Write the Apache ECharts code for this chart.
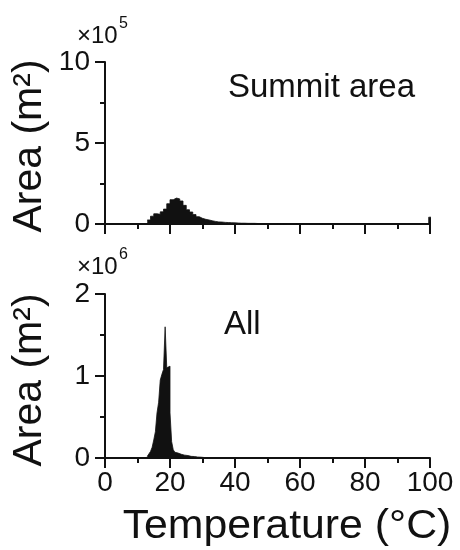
<!DOCTYPE html>
<html><head><meta charset="utf-8">
<script src="https://cdn.jsdelivr.net/npm/echarts@6/dist/echarts.min.js"></script>
<style>html,body{margin:0;padding:0;background:#fff}#c{width:460px;height:550px}</style>
</head><body><div id="c"></div>
<script>
// Summit area histogram: bin start (°C), area (×1e5 m²), 1 °C bins
const summitBinStart = [13,14,15,16,17,18,19,20,21,22,23,24,25,26,27,28,29,30,31,32,33,34,35,36,37,38,39,40,41,42,43,44,45,46,47,48,49,50,51,52,53,54,55,56,57,58,59,60,61,62,63,64,65,66,67,68,69,99.6];
const summitBinWidth = [1,1,1,1,1,1,1,1,1,1,1,1,1,1,1,1,1,1,1,1,1,1,1,1,1,1,1,1,1,1,1,1,1,1,1,1,1,1,1,1,1,1,1,1,1,1,1,1,1,1,1,1,1,1,1,1,1,0.8];
const summitArea = [0.25,0.48,0.63,0.6,0.75,0.92,1.25,1.5,1.6,1.55,1.42,1.15,0.88,0.74,0.58,0.45,0.35,0.29,0.25,0.2,0.16,0.13,0.12,0.1,0.09,0.08,0.07,0.06,0.05,0.05,0.04,0.04,0.04,0.03,0.03,0.03,0.03,0.02,0.02,0.02,0.02,0.02,0.02,0.015,0.015,0.015,0.015,0.015,0.01,0.01,0.01,0.01,0.01,0.01,0.01,0.01,0.01,0.42];
// All histogram: bin start (°C), area (×1e6 m²), 0.5 °C bins
const allBinStart = [13,13.5,14,14.5,15,15.5,16,16.5,17,17.5,18,18.5,19,19.5,20,20.5,21,21.5,22,22.5,23,23.5,24,24.5,25,25.5,26,26.5,27,27.5,28,28.5,29,29.5,30,30.5,31];
const allBinWidth = 0.5;
const allArea = [0.02,0.05,0.08,0.13,0.22,0.32,0.55,0.68,0.95,1.02,1.08,1.6,1.1,1.12,0.55,0.2,0.1,0.07,0.06,0.05,0.045,0.04,0.035,0.03,0.03,0.025,0.02,0.02,0.018,0.015,0.012,0.01,0.01,0.008,0.006,0.005,0.004];
const xTicks = [0,20,40,60,80,100];
const summitTicks = [0,5,10];
const allTicks = [0,1,2];

const FONT = 'Liberation Sans, Arial, sans-serif';
const black = '#111';
function xAxisCfg(gi, showLabel){
  return {type:'value', gridIndex:gi, min:xTicks[0], max:xTicks[xTicks.length-1], interval:xTicks[1]-xTicks[0],
    axisLine:{show:true, onZero:false, lineStyle:{color:black, width:2}},
    axisTick:{show:true, length:10, lineStyle:{color:black, width:2}},
    minorTick:{show:true, splitNumber:2, length:5, lineStyle:{color:black, width:2}},
    splitLine:{show:false},
    axisLabel:{show:showLabel, color:black, fontSize:28, fontFamily:FONT, margin:11}};
}
function yAxisCfg(gi, ticks){
  return {type:'value', gridIndex:gi, min:ticks[0], max:ticks[ticks.length-1], interval:ticks[1]-ticks[0],
    axisLine:{show:true, lineStyle:{color:black, width:2}},
    axisTick:{show:true, length:10, lineStyle:{color:black, width:2}},
    minorTick:{show:true, splitNumber:2, length:5, lineStyle:{color:black, width:2}},
    splitLine:{show:false},
    axisLabel:{color:black, fontSize:28, fontFamily:FONT, margin:15}};
}
// Build step outline points (bin start, value) for a filled step histogram
function histPoints(starts, widths, vals){
  const pts = [];
  for (let i = 0; i < starts.length; i++){
    const w = Array.isArray(widths) ? widths[i] : widths;
    pts.push([starts[i], vals[i]]);
    const end = starts[i] + w;
    if (i === starts.length - 1 || Math.abs(starts[i+1] - end) > 1e-9) pts.push([end, 0]);
  }
  return pts;
}
function histSeries(xi, yi, pts){
  return {type:'line', xAxisIndex:xi, yAxisIndex:yi, data:pts, step:'end', showSymbol:false, symbol:'none',
    clip:false, lineStyle:{color:black, width:0.8}, areaStyle:{color:black, opacity:1, origin:'start'}, z:1, silent:true};
}

const chart = echarts.init(document.getElementById('c'), null, {renderer:'canvas'});
chart.setOption({
  animation:false,
  backgroundColor:'#fff',
  grid:[{left:105, top:62, width:325, height:162},{left:105, top:294, width:325, height:164}],
  xAxis:[xAxisCfg(0,false), xAxisCfg(1,true)],
  yAxis:[yAxisCfg(0,summitTicks), yAxisCfg(1,allTicks)],
  series:[
    histSeries(0, 0, histPoints(summitBinStart, summitBinWidth, summitArea)),
    histSeries(1, 1, histPoints(allBinStart, allBinWidth, allArea))
  ],
  graphic:[
    {type:'text', x:77, y:36, style:{text:'×10', fill:black, font:'24px '+FONT, verticalAlign:'middle'}},
    {type:'text', x:119, y:24, style:{text:'5', fill:black, font:'16px '+FONT, verticalAlign:'middle'}},
    {type:'text', x:77, y:267, style:{text:'×10', fill:black, font:'24px '+FONT, verticalAlign:'middle'}},
    {type:'text', x:119, y:255, style:{text:'6', fill:black, font:'16px '+FONT, verticalAlign:'middle'}},
    {type:'text', x:228, y:88, style:{text:'Summit area', fill:black, font:'33px '+FONT, verticalAlign:'middle'}},
    {type:'text', x:224, y:325, style:{text:'All', fill:black, font:'33px '+FONT, verticalAlign:'middle'}},
    {type:'text', x:287, y:527, scaleX:1.07, style:{text:'Temperature (°C)', fill:black, font:'40px '+FONT, align:'center', verticalAlign:'middle'}},
    {type:'text', x:30, y:146, rotation:Math.PI/2, style:{text:'Area (m²)', fill:black, font:'41px '+FONT, align:'center', verticalAlign:'middle'}},
    {type:'text', x:30, y:380, rotation:Math.PI/2, style:{text:'Area (m²)', fill:black, font:'41px '+FONT, align:'center', verticalAlign:'middle'}}
  ]
});
</script></body></html>
